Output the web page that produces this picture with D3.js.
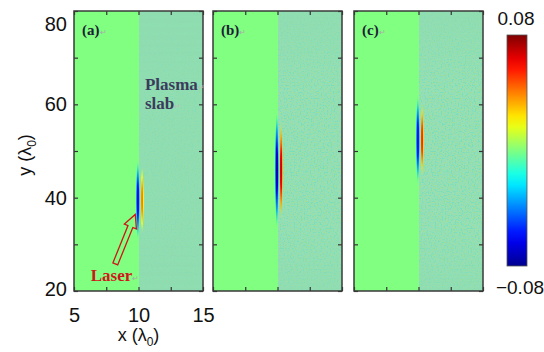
<!DOCTYPE html>
<html>
<head>
<meta charset="utf-8">
<script src="https://cdn.jsdelivr.net/npm/d3@7"></script>
<style>
  body { margin: 0; background: #fff; }
  svg { display: block; }
  .tick text { font-family: 'Liberation Sans', Arial, sans-serif; font-size: 20px; fill: #111; }
  .tick line { stroke: #333; stroke-width: 1.2; }
</style>
</head>
<body>
<svg id="chart" width="544" height="352"></svg>
<script>
// ---- data ----
const panelLabels = ['(a)', '(b)', '(c)'];
const xDomain = [5, 15];
const yDomain = [20, 80];
const xTicks = [5, 7.5, 10, 12.5, 15];
const xTickLabels = [5, 10, 15];
const yTicks = [20, 30, 40, 50, 60, 70, 80];
const yTickLabels = [20, 40, 60, 80];
const slabStart = 10;
const colorLimits = [-0.08, 0.08];
// pulse (field) per panel: centre, half length along y, peak values
const pulseCenterY = [39.5, 45.9, 52.4];
const pulseHalfLen = [8.5, 12.5, 9.5];
const negPeak = [-0.072, -0.08, -0.07];
const posPeak = [0.045, 0.075, 0.06];
const noiseLevel = [0.05, 0.13, 0.14];

// ---- layout ----
const panelLeft = [74, 213, 354];
const panelTop = 11;
const panelW = 129;
const panelH = 280;
const cbar = {x: 507, y: 35, w: 20, h: 231};

const jet = d3.scaleLinear()
  .domain([0, 0.125, 0.375, 0.625, 0.875, 1])
  .range(['#00008f', '#0000ff', '#00ffff', '#ffff00', '#ff0000', '#800000'])
  .clamp(true);
const color = (v) => jet((v - colorLimits[0]) / (colorLimits[1] - colorLimits[0]));
const slabColor = '#8edcb0';

const x = d3.scaleLinear().domain(xDomain).range([0, panelW]);
const y = d3.scaleLinear().domain(yDomain).range([panelH, 0]);

const svg = d3.select('#chart');
const defs = svg.append('defs');

// speckle texture for the plasma slab
const noise = defs.append('filter').attr('id', 'noise')
  .attr('x', 0).attr('y', 0).attr('width', 1).attr('height', 1);
noise.append('feTurbulence').attr('type', 'fractalNoise')
  .attr('baseFrequency', 0.7).attr('numOctaves', 1).attr('seed', 3);
noise.append('feColorMatrix').attr('type', 'matrix')
  .attr('values', '4 0 0 0 -1.45  0 0 0 0 0.86  -4 0 0 0 2.7  0 0 0 0 1');

const fadeY = defs.append('linearGradient').attr('id', 'fadeY')
  .attr('x1', 0).attr('x2', 0).attr('y1', 0).attr('y2', 1);
[[0, 0.3], [0.3, 1], [0.75, 1], [1, 0.45]].forEach(([o, a]) =>
  fadeY.append('stop').attr('offset', o).attr('stop-color', '#fff').attr('stop-opacity', a));
defs.append('mask').attr('id', 'fadeMask').attr('maskContentUnits', 'objectBoundingBox')
  .append('rect').attr('width', 1).attr('height', 1).attr('fill', 'url(#fadeY)');

function lobeGradient(id, peak) {
  const g = defs.append('radialGradient').attr('id', id);
  [[0, 1, 1], [0.4, 0.8, 1], [0.72, 0.45, 0.8], [1, 0.15, 0]].forEach(([o, f, a]) =>
    g.append('stop').attr('offset', o)
      .attr('stop-color', color(peak * f)).attr('stop-opacity', a));
}

panelLabels.forEach((label, i) => {
  const g = svg.append('g')
    .attr('transform', `translate(${panelLeft[i]}, ${panelTop})`);

  defs.append('clipPath').attr('id', `clip${i}`)
    .append('rect').attr('width', panelW).attr('height', panelH);
  const body = g.append('g').attr('clip-path', `url(#clip${i})`);

  const xs = Math.round(x(slabStart));
  body.append('rect')
    .attr('x', x(xDomain[0])).attr('y', 0)
    .attr('width', xs - x(xDomain[0]) + 1).attr('height', panelH)
    .attr('fill', color(0));
  body.append('rect')
    .attr('x', xs).attr('y', 0)
    .attr('width', x(xDomain[1]) - xs).attr('height', panelH)
    .attr('fill', slabColor);
  body.append('rect')
    .attr('x', xs).attr('y', 0)
    .attr('width', x(xDomain[1]) - xs).attr('height', panelH)
    .attr('filter', 'url(#noise)')
    .attr('mask', 'url(#fadeMask)')
    .attr('opacity', noiseLevel[i]);

  lobeGradient(`neg${i}`, negPeak[i]);
  lobeGradient(`pos${i}`, posPeak[i]);
  const cy = y(pulseCenterY[i]);
  const ry = y(pulseCenterY[i] - pulseHalfLen[i]) - cy;
  body.append('ellipse')
    .attr('cx', x(slabStart - 0.05)).attr('cy', cy)
    .attr('rx', x(5.17) - x(5)).attr('ry', ry)
    .attr('fill', `url(#neg${i})`);
  body.append('ellipse')
    .attr('cx', x(slabStart + 0.28)).attr('cy', cy)
    .attr('rx', x(5.15) - x(5)).attr('ry', ry * 0.85)
    .attr('fill', `url(#pos${i})`);

  // axes with inward ticks on all four sides
  const fmtX = (d) => (i === 0 && xTickLabels.includes(d) ? d : '');
  const fmtY = (d) => (i === 0 && yTickLabels.includes(d) ? d : '');
  g.append('g').attr('transform', `translate(0, ${panelH})`)
    .call(d3.axisBottom(x).tickValues(xTicks).tickSizeInner(-4).tickSizeOuter(0)
      .tickPadding(17).tickFormat(fmtX))
    .call((a) => a.select('.domain').remove());
  g.append('g')
    .call(d3.axisTop(x).tickValues(xTicks).tickSizeInner(-4).tickSizeOuter(0)
      .tickFormat(''))
    .call((a) => a.select('.domain').remove());
  g.append('g')
    .call(d3.axisLeft(y).tickValues(yTicks).tickSizeInner(-4).tickSizeOuter(0)
      .tickPadding(7).tickFormat(fmtY))
    .call((a) => a.select('.domain').remove())
    .call((a) => a.selectAll('.tick text')
      .attr('dy', (d) => (d === 80 ? '0.95em' : d === 20 ? '0.2em' : '0.32em')));
  g.append('g').attr('transform', `translate(${panelW}, 0)`)
    .call(d3.axisRight(y).tickValues(yTicks).tickSizeInner(-4).tickSizeOuter(0)
      .tickFormat(''))
    .call((a) => a.select('.domain').remove());

  g.append('rect')
    .attr('width', panelW).attr('height', panelH)
    .attr('fill', 'none').attr('stroke', '#3a3a3a').attr('stroke-width', 1.5);

  const lab = g.append('text')
    .attr('x', 8).attr('y', 24)
    .attr('font-family', "'Liberation Serif', 'Times New Roman', serif")
    .attr('font-weight', 'bold').attr('font-size', 15).attr('fill', '#1d1d35');
  lab.append('tspan').text(label);
  lab.append('tspan').attr('font-size', 8).attr('font-weight', 'normal')
    .attr('fill', '#aaa').text('\u21b5');
});

// annotations in panel (a)
const ga = svg.append('g').attr('transform', `translate(${panelLeft[0]}, ${panelTop})`);
const serif = "'Liberation Serif', 'Times New Roman', serif";
const plasma = ga.append('text')
  .attr('font-family', serif).attr('font-weight', 'bold').attr('font-size', 17)
  .attr('fill', '#3b3b5c');
plasma.append('tspan').attr('x', x(10.5)).attr('y', 79).text('Plasma');
plasma.append('tspan').attr('font-size', 8).attr('font-weight', 'normal').attr('fill', '#bbb').text('\u21b5');
plasma.append('tspan').attr('x', x(10.5)).attr('y', 98).text('slab');
plasma.append('tspan').attr('font-size', 8).attr('font-weight', 'normal').attr('fill', '#bbb').text('\u21b5');

const laser = ga.append('text')
  .attr('x', x(6.3)).attr('y', y(22.1))
  .attr('font-family', serif).attr('font-weight', 'bold').attr('font-size', 17)
  .attr('fill', '#d0161a');
laser.append('tspan').text('Laser');
laser.append('tspan').attr('font-size', 8).attr('font-weight', 'normal').attr('fill', '#aaa').text('\u21b5');

// hollow arrow pointing at the pulse
const tail = [x(8.2), y(25.8)];
const tip = [x(9.75), y(36.4)];
const len = Math.hypot(tip[0] - tail[0], tip[1] - tail[1]);
const ang = Math.atan2(tip[1] - tail[1], tip[0] - tail[0]) * 180 / Math.PI;
const sw = 2.6, hw = 6.5, hl = 13;
ga.append('path')
  .attr('d', d3.line()([[0, -sw], [len - hl, -sw], [len - hl, -hw], [len, 0],
    [len - hl, hw], [len - hl, sw], [0, sw]]) + 'Z')
  .attr('transform', `translate(${tail[0]}, ${tail[1]}) rotate(${ang})`)
  .attr('fill', 'none').attr('stroke', '#d0161a').attr('stroke-width', 1.3)
  .attr('stroke-linejoin', 'miter');

// axis titles
const sans = "'Liberation Sans', Arial, sans-serif";
const xt = svg.append('text')
  .attr('x', panelLeft[0] + x(10)).attr('y', 341).attr('text-anchor', 'middle')
  .attr('font-family', sans).attr('font-size', 18).attr('fill', '#111');
xt.append('tspan').text('x  (\u03bb');
xt.append('tspan').attr('font-size', 12).attr('dy', 5).text('0');
xt.append('tspan').attr('dy', -5).text(')');

const yt = svg.append('text')
  .attr('transform', 'translate(31, 155) rotate(-90)').attr('text-anchor', 'middle')
  .attr('font-family', sans).attr('font-size', 18).attr('fill', '#111');
yt.append('tspan').text('y  (\u03bb');
yt.append('tspan').attr('font-size', 12).attr('dy', 5).text('0');
yt.append('tspan').attr('dy', -5).text(')');

// colour bar
const cbGrad = defs.append('linearGradient').attr('id', 'cbGrad')
  .attr('x1', 0).attr('x2', 0).attr('y1', 1).attr('y2', 0);
d3.range(0, 1.0001, 0.05).forEach((t) =>
  cbGrad.append('stop').attr('offset', t).attr('stop-color', jet(t)));
svg.append('rect')
  .attr('x', cbar.x).attr('y', cbar.y).attr('width', cbar.w).attr('height', cbar.h)
  .attr('fill', 'url(#cbGrad)').attr('stroke', '#555').attr('stroke-width', 0.8);
svg.append('text')
  .attr('x', cbar.x + cbar.w / 2 - 1).attr('y', 25).attr('text-anchor', 'middle')
  .attr('font-family', sans).attr('font-size', 19).attr('fill', '#111')
  .text(colorLimits[1].toFixed(2));
svg.append('text')
  .attr('x', cbar.x + cbar.w / 2 + 3).attr('y', 294).attr('text-anchor', 'middle')
  .attr('font-family', sans).attr('font-size', 19).attr('fill', '#111')
  .text('\u2212' + Math.abs(colorLimits[0]).toFixed(2));
</script>
</body>
</html>
